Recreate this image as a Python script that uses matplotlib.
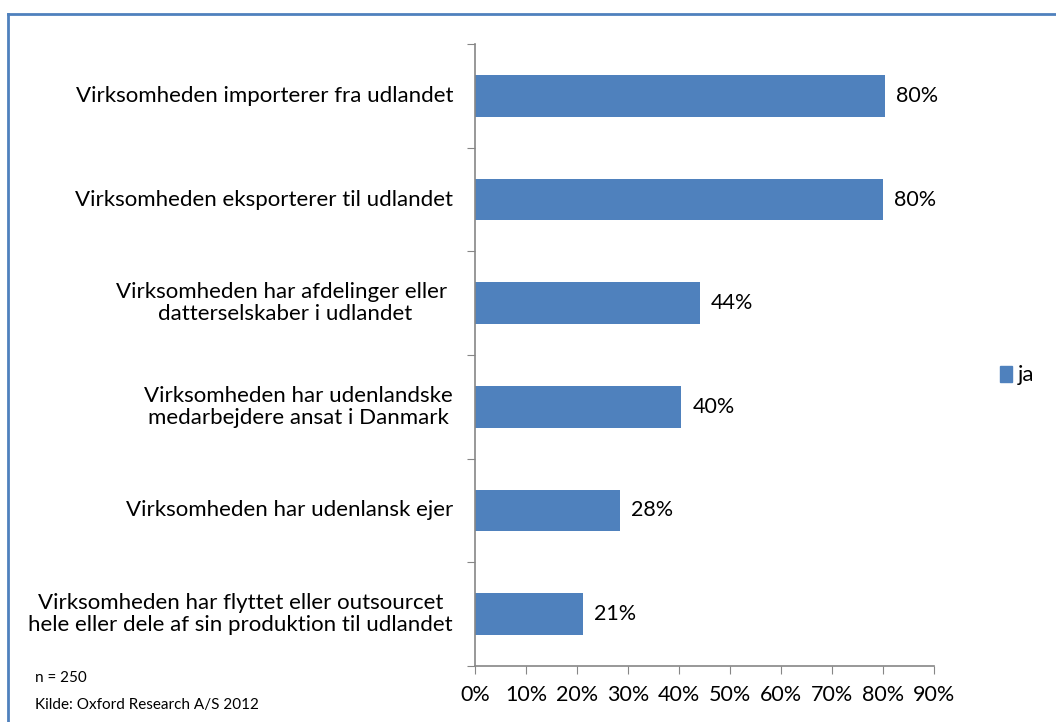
import matplotlib.pyplot as plt
from matplotlib.lines import Line2D
from matplotlib.patches import Rectangle

categories = [
    "Virksomheden importerer fra udlandet",
    "Virksomheden eksporterer til udlandet",
    "Virksomheden har afdelinger eller \ndatterselskaber i udlandet",
    "Virksomheden har udenlandske\nmedarbejdere ansat i Danmark",
    "Virksomheden har udenlansk ejer",
    "Virksomheden har flyttet eller outsourcet\nhele eller dele af sin produktion til udlandet",
]
values = [80.4, 80.0, 44.1, 40.4, 28.4, 21.2]
labels = ["80%", "80%", "44%", "40%", "28%", "21%"]
xticks = [0, 10, 20, 30, 40, 50, 60, 70, 80, 90]

plt.rcParams['font.family'] = ['Lato', 'DejaVu Sans']
color = '#4F81BD'

fig = plt.figure(figsize=(10.56, 7.22), dpi=100)
ax = fig.add_axes([475 / 1056, 1 - 666 / 722, (934 - 475) / 1056, (666 - 44) / 722])

n = len(categories)
ypos = list(range(n))[::-1]
ax.barh(ypos, values, height=0.4, color=color, label='ja')
for y, v, lab in zip(ypos, values, labels):
    ax.text(v + 2.2, y, lab, va='center', ha='left', fontsize=15.5)

ax.set_xlim(0, 90)
ax.set_ylim(-0.5, n - 0.5)
ax.set_xticks(xticks)
ax.set_xticklabels([f"{t}%" for t in xticks], fontsize=15.5)
ax.tick_params(axis='x', length=6, color='#868686', pad=8, direction='out')

ax.set_yticks([i - 0.5 for i in range(n + 1)], minor=False)
ax.set_yticklabels([])
ax.tick_params(axis='y', length=6, color='#868686', direction='out')
for y, cat in zip(ypos, categories):
    ax.text(-4.3, y, cat, ha='right', va='center', fontsize=16,
            multialignment='center', linespacing=1.1)

for s in ['top', 'right']:
    ax.spines[s].set_visible(False)
for s in ['left', 'bottom']:
    ax.spines[s].set_color('#868686')
    ax.spines[s].set_linewidth(1.2)

# legend
fig.patches.append(Rectangle((1000 / 1056, 1 - 382 / 722), 12 / 1056, 16 / 722,
                             transform=fig.transFigure, color=color))
fig.text(1018 / 1056, 1 - 375 / 722, "ja", fontsize=16, va='center', ha='left')

fig.text(35 / 1056, 1 - 678 / 722, "n = 250", fontsize=11, va='center')
fig.text(35 / 1056, 1 - 705 / 722, "Kilde: Oxford Research A/S 2012", fontsize=11, va='center')

# chart border (top and left visible)
fig.add_artist(Line2D([8 / 1056, 1], [1 - 14 / 722, 1 - 14 / 722], transform=fig.transFigure,
                      color='#4F81BD', lw=2))
fig.add_artist(Line2D([8 / 1056, 8 / 1056], [0, 1 - 14 / 722], transform=fig.transFigure,
                      color='#4F81BD', lw=2))

fig.savefig('out.png', dpi=100)
